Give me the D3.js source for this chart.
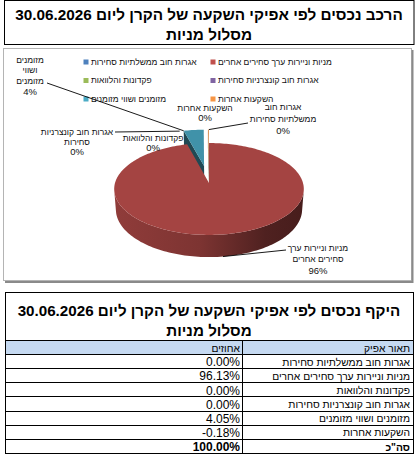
<!DOCTYPE html>
<html>
<head>
<meta charset="utf-8">
<script src="https://cdn.jsdelivr.net/npm/d3@7"></script>
<style>
  body { margin: 0; background: #fff; }
  svg { display: block; font-family: Arial, "Liberation Sans", sans-serif; }
</style>
</head>
<body>
<svg id="chart" width="417" height="457"></svg>
<script>
const reportDate = "30.06.2026";
const trackName = "מסלול מניות";
const chartTitle = "הרכב נכסים לפי אפיקי השקעה של הקרן ליום " + reportDate;
const tableTitle = "היקף נכסים לפי אפיקי השקעה של הקרן ליום " + reportDate;

const categories = [
  "אגרות חוב ממשלתיות סחירות",
  "מניות וניירות ערך סחירים אחרים",
  "פקדונות והלוואות",
  "אגרות חוב קונצרניות סחירות",
  "מזומנים ושווי מזומנים",
  "השקעות אחרות"
];
const shares = [0.00, 96.13, 0.00, 0.00, 4.05, -0.18];
const totalShare = 100.00;
const totalLabel = 'סה"כ';
const tableHeaders = ["תאור אפיק", "אחוזים"];
// category names as Excel wraps them inside the data labels
const labelLines = [
  ["אגרות חוב", "ממשלתיות סחירות"],
  ["מניות וניירות ערך", "סחירים אחרים"],
  ["פקדונות והלוואות"],
  ["אגרות חוב קונצרניות", "סחירות"],
  ["מזומנים", "ושווי", "מזומנים"],
  ["השקעות אחרות"]
];
const seriesColors = ["#4f81bd", "#c0504d", "#9bbb59", "#8064a2", "#4bacc6", "#f79646"];

const svg = d3.select("#chart");

// scale a text's font so its rendered width hits the given width
function fitFont(node, size, width) {
  node.setAttribute("font-size", size);
  const w = node.getComputedTextLength();
  return w > 0 ? size * width / w : size;
}

// ---- chart title box
svg.append("rect")
  .attr("x", 4.5).attr("y", 0.5).attr("width", 409.5).attr("height", 44)
  .attr("fill", "#fff").attr("stroke", "#000");
const chartTitles = svg.append("g").selectAll("text")
  .data([chartTitle, trackName])
  .join("text")
  .attr("x", 209)
  .attr("y", (d, i) => 15 + i * 20)
  .attr("dy", "0.35em")
  .attr("text-anchor", "middle")
  .attr("direction", "rtl")
  .attr("font-weight", "bold")
  .text(d => d);
chartTitles.attr("font-size", fitFont(chartTitles.node(), 16, 388));

// ---- chart frame
svg.append("rect")
  .attr("x", 3.5).attr("y", 48.5).attr("width", 408).attr("height", 232)
  .attr("fill", "#fff").attr("stroke", "#b4b4b4");
svg.append("path")
  .attr("d", "M412.5,50V282H5")
  .attr("fill", "none").attr("stroke", "#8a8a8a").attr("stroke-width", 2);

// ---- 3D pie
const geo = {cx: 209, cy: 183, scale: 94, tilt: 28.7 * Math.PI / 180, eye: 6.73, depth: 0.25, explode: 0.4};
const cosT = Math.cos(geo.tilt), sinT = Math.sin(geo.tilt);
const camera = [0, geo.eye * sinT, -geo.eye * cosT];

function project([x, y, z]) {
  const k = geo.eye / (geo.eye + z * cosT - y * sinT);
  return [geo.cx + x * geo.scale * k, geo.cy - (z * sinT + y * cosT) * geo.scale * k];
}
function facing(n, p) {
  return n[0] * (camera[0] - p[0]) + n[1] * (camera[1] - p[1]) + n[2] * (camera[2] - p[2]) > 0;
}
const rim = (a, t, y) => [a.ox + Math.sin(t), y, a.oz + Math.cos(t)];
const poly = pts => "M" + pts.map(p => project(p).join(",")).join("L") + "Z";

const pie = d3.pie().sort(null).value(d => Math.abs(d)).startAngle(0).endAngle(2 * Math.PI);
const arcs = pie(shares);
const sumAbs = d3.sum(shares, d => Math.abs(d));
const largest = d3.maxIndex(shares, d => Math.abs(d));
arcs.forEach(a => {
  const mid = (a.startAngle + a.endAngle) / 2;
  const e = a.index === largest ? 0 : geo.explode;
  a.ox = e * Math.sin(mid);
  a.oz = e * Math.cos(mid);
  const n = Math.max(2, Math.ceil((a.endAngle - a.startAngle) / (Math.PI / 120)));
  a.steps = d3.range(n + 1).map(i => a.startAngle + (a.endAngle - a.startAngle) * i / n);
});
const drawn = arcs.filter(a => a.endAngle - a.startAngle > 1e-6);

const defs = svg.append("defs");
drawn.forEach(a => {
  const c = d3.color(seriesColors[a.index]);
  const g = defs.append("linearGradient")
    .attr("id", "wall" + a.index)
    .attr("gradientUnits", "userSpaceOnUse")
    .attr("x1", geo.cx - geo.scale).attr("x2", geo.cx + geo.scale)
    .attr("y1", 0).attr("y2", 0);
  [[0, 0.8], [0.45, 1.2], [0.8, 2.5], [1, 2.8]].forEach(([o, k]) =>
    g.append("stop").attr("offset", o).attr("stop-color", c.darker(k)));
});

const h = -geo.depth;
const walls = [];
drawn.forEach(a => {
  const c = d3.color(seriesColors[a.index]);
  [[a.startAngle, -1], [a.endAngle, 1]].forEach(([t, sgn]) => {
    const n = [sgn * Math.cos(t), 0, -sgn * Math.sin(t)];
    const p = [a.ox + 0.5 * Math.sin(t), h / 2, a.oz + 0.5 * Math.cos(t)];
    if (!facing(n, p)) return;
    walls.push({
      z: p[2],
      d: poly([[a.ox, 0, a.oz], rim(a, t, 0), rim(a, t, h), [a.ox, h, a.oz]]),
      fill: c.darker(2.4)
    });
  });
  let run = [];
  const flush = () => {
    if (run.length > 1) {
      const pts = run.map(t => rim(a, t, 0)).concat(run.map(t => rim(a, t, h)).reverse());
      walls.push({z: d3.mean(run, t => a.oz + Math.cos(t)), d: poly(pts), fill: `url(#wall${a.index})`});
    }
    run = [];
  };
  a.steps.forEach(t => {
    if (facing([Math.sin(t), 0, Math.cos(t)], rim(a, t, h / 2))) run.push(t);
    else flush();
  });
  flush();
});
walls.sort((p, q) => q.z - p.z);

const pieG = svg.append("g");
pieG.selectAll("path.wall")
  .data(walls)
  .join("path")
  .attr("class", "wall")
  .attr("d", d => d.d)
  .attr("fill", d => d.fill);

pieG.selectAll("path.top")
  .data(drawn)
  .join("path")
  .attr("class", "top")
  .attr("d", a => poly([[a.ox, 0, a.oz]].concat(a.steps.map(t => rim(a, t, 0)))))
  .attr("fill", a => d3.color(seriesColors[a.index]).darker(0.45));

// ---- legend (two columns, three rows)
const legendCol = d3.scaleOrdinal().domain([0, 1]).range([86, 213]);
const legendRow = d3.scaleLinear().domain([0, 2]).range([62, 99]);
const legend = svg.append("g").attr("fill", "#111");
legend.selectAll("rect")
  .data(categories)
  .join("rect")
  .attr("x", (d, i) => legendCol(i % 2) - 2.5)
  .attr("y", (d, i) => legendRow(Math.floor(i / 2)) - 2.5)
  .attr("width", 5).attr("height", 5)
  .attr("fill", (d, i) => seriesColors[i]);
const legendText = legend.selectAll("text")
  .data(categories)
  .join("text")
  .attr("x", (d, i) => legendCol(i % 2) + 5)
  .attr("y", (d, i) => legendRow(Math.floor(i / 2)))
  .attr("dy", "0.35em")
  .text(d => d);
// Hebrew glyphs here run wider than Excel's, so size them off the longest legend entry
const hebSize = fitFont(legendText.filter((d, i) => i === 1).node(), 10, 114);
legendText.attr("font-size", hebSize);

// ---- data labels with leader lines
const labelPos = [
  {x: 283, y: 107, gap: 12, to: [248, 123], attach: "mid", level: 0},
  {x: 318, y: 248, gap: 11.5, to: [286, 250], attach: "mid", level: 1},
  {x: 153, y: 138, gap: 10},
  {x: 77, y: 132, gap: 10, to: [115, 132], attach: "mid", level: 0},
  {x: 30, y: 60, gap: 10.5, to: [47, 83], attach: "start", level: 0},
  {x: 205, y: 108, gap: 10}
];
const pct = d3.format(".0%");

const labelG = svg.append("g").attr("fill", "#111");
arcs.forEach(a => {
  const L = labelPos[a.index];
  if (L.to) {
    const t = L.attach === "start" ? a.startAngle : (a.startAngle + a.endAngle) / 2;
    const from = project(rim(a, t, L.level ? h : 0));
    labelG.append("line")
      .attr("x1", from[0]).attr("y1", from[1])
      .attr("x2", L.to[0]).attr("y2", L.to[1])
      .attr("stroke", "#000").attr("stroke-width", 0.9);
  }
  const lines = labelLines[a.index].concat([pct(Math.abs(shares[a.index]) / sumAbs)]);
  labelG.selectAll(null)
    .data(lines)
    .join("text")
    .attr("x", L.x)
    .attr("y", (d, i) => L.y + i * L.gap)
    .attr("dy", "0.35em")
    .attr("text-anchor", "middle")
    .attr("font-size", (d, i) => i === lines.length - 1 ? 9.5 : hebSize)
    .text(d => d);
});

// ---- table
const tbl = {x0: 5, x1: 413, top: 292, head: 340, body: 354, rowH: 14.15, split: 242};
const rows = categories.map((c, i) => ({name: c, value: shares[i], bold: false}))
  .concat([{name: totalLabel, value: totalShare, bold: true}]);
const rowY = d3.scaleLinear().domain([0, rows.length]).range([tbl.body, tbl.body + rows.length * tbl.rowH]);
const fmtPct = v => v.toFixed(2) + "%";

const table = svg.append("g").attr("font-size", "12px");
table.append("rect")
  .attr("x", tbl.x0 + 0.5).attr("y", tbl.head + 0.5)
  .attr("width", tbl.x1 - tbl.x0).attr("height", tbl.body - tbl.head)
  .attr("fill", "#c5d9f1");

const tableTitles = table.selectAll("text.title")
  .data([tableTitle, trackName])
  .join("text")
  .attr("class", "title")
  .attr("x", 209)
  .attr("y", (d, i) => 311 + i * 20)
  .attr("dy", "0.35em")
  .attr("text-anchor", "middle")
  .attr("direction", "rtl")
  .attr("font-weight", "bold")
  .text(d => d);
tableTitles.attr("font-size", fitFont(tableTitles.node(), 16, 383));

const names = table.selectAll("text.name")
  .data(rows)
  .join("text")
  .attr("class", "name")
  .attr("x", tbl.x1 - 3)
  .attr("y", (d, i) => rowY(i + 0.5) + 1)
  .attr("dy", "0.35em")
  .attr("text-anchor", "end")
  .attr("font-weight", d => d.bold ? "bold" : null)
  .text(d => d.name);
const nameSize = fitFont(names.node(), 12, 128);
names.attr("font-size", nameSize);

table.selectAll("text.head")
  .data(tableHeaders)
  .join("text")
  .attr("class", "head")
  .attr("x", (d, i) => i === 0 ? tbl.x1 - 3 : tbl.split - 2)
  .attr("y", (tbl.head + tbl.body) / 2 + 1)
  .attr("dy", "0.35em")
  .attr("text-anchor", "end")
  .attr("font-size", nameSize)
  .text(d => d);

table.selectAll("text.val")
  .data(rows)
  .join("text")
  .attr("class", "val")
  .attr("x", tbl.split - 2)
  .attr("y", (d, i) => rowY(i + 0.5) + 1)
  .attr("dy", "0.35em")
  .attr("text-anchor", "end")
  .attr("font-weight", d => d.bold ? "bold" : null)
  .text(d => fmtPct(d.value));

// grid lines
const hLines = [tbl.top, tbl.head, tbl.body].concat(d3.range(1, rows.length + 1).map(i => rowY(i)));
table.selectAll("line.h")
  .data(hLines)
  .join("line")
  .attr("class", "h")
  .attr("x1", tbl.x0).attr("x2", tbl.x1 + 1)
  .attr("y1", d => Math.round(d) + 0.5).attr("y2", d => Math.round(d) + 0.5)
  .attr("stroke", "#000");
table.selectAll("line.v")
  .data([tbl.x0, tbl.split, tbl.x1])
  .join("line")
  .attr("class", "v")
  .attr("x1", d => d + 0.5).attr("x2", d => d + 0.5)
  .attr("y1", (d, i) => i === 1 ? tbl.head : tbl.top)
  .attr("y2", Math.round(rowY(rows.length)) + 1)
  .attr("stroke", "#000");
</script>
</body>
</html>
